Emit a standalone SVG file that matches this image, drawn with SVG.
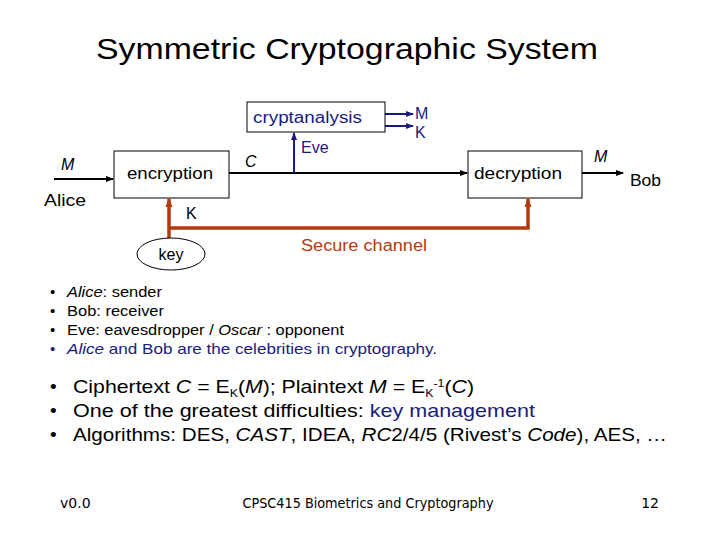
<svg xmlns="http://www.w3.org/2000/svg" width="720" height="540" viewBox="0 0 720 540">
<style>
text{font-family:"Liberation Sans","DejaVu Sans",sans-serif;fill:#000}
.lbl{font-size:16px}
.blue{fill:#1a1a80}
.red{fill:#b33a10}
.box{fill:#fff;stroke:#000;stroke-width:1}
.blk{stroke:#000;stroke-width:2;fill:none}
.bl{stroke:#1a1a80;stroke-width:2;fill:none}
.rd{stroke:#b33a10;stroke-width:3.5;fill:none}
.b1{font-size:15px}
.b2{font-size:19px}
.ft{font-size:14px;font-family:"DejaVu Sans","Liberation Sans",sans-serif}
</style>
<defs>
<marker id="ak" markerWidth="8" markerHeight="8" refX="7" refY="4" orient="auto" markerUnits="userSpaceOnUse"><path d="M0,1 L8,4 L0,7 Z" fill="#000"/></marker>
<marker id="ab" markerWidth="8" markerHeight="8" refX="7" refY="4" orient="auto" markerUnits="userSpaceOnUse"><path d="M0,1 L8,4 L0,7 Z" fill="#1a1a80"/></marker>
<marker id="ar" markerWidth="10" markerHeight="10" refX="8" refY="5" orient="auto" markerUnits="userSpaceOnUse"><path d="M0,1.5 L9,5 L0,8.5 Z" fill="#b33a10"/></marker>
</defs>
<rect width="720" height="540" fill="#fff"/>
<text x="347" y="59" font-size="30" text-anchor="middle" textLength="502" lengthAdjust="spacingAndGlyphs">Symmetric Cryptographic System</text>

<g id="connectors">
<line class="blk" x1="54" y1="179" x2="113" y2="179" marker-end="url(#ak)"/>
<line class="blk" x1="229" y1="173" x2="467" y2="173" marker-end="url(#ak)"/>
<line class="blk" x1="582" y1="173" x2="623" y2="173" marker-end="url(#ak)"/>
<line class="bl" x1="294" y1="173" x2="294" y2="133" marker-end="url(#ab)"/>
<line class="bl" x1="385" y1="114" x2="413" y2="114" marker-end="url(#ab)"/>
<line class="bl" x1="385" y1="126" x2="413" y2="126" marker-end="url(#ab)"/>
<line class="rd" x1="169" y1="238" x2="169" y2="199" marker-end="url(#ar)"/>
<polyline class="rd" points="169,228 528,228 528,199" marker-end="url(#ar)"/>
</g>

<g id="cryptanalysis">
<rect class="box" x="247" y="102" width="138" height="30"/>
<text class="lbl blue" x="253" y="123" textLength="109" lengthAdjust="spacingAndGlyphs">cryptanalysis</text>
</g>
<g id="encryption">
<rect class="box" x="114" y="151" width="115" height="47"/>
<text class="lbl" x="127" y="179" textLength="86" lengthAdjust="spacingAndGlyphs">encryption</text>
</g>
<g id="decryption">
<rect class="box" x="468" y="151" width="114" height="47"/>
<text class="lbl" x="474" y="179" textLength="88" lengthAdjust="spacingAndGlyphs">decryption</text>
</g>
<g id="key">
<ellipse cx="171" cy="254" rx="34" ry="16" fill="#fff" stroke="#000" stroke-width="1"/>
<text class="lbl" x="171" y="260" text-anchor="middle">key</text>
</g>

<g id="labels">
<text class="lbl" x="61" y="170" font-style="italic">M</text>
<text class="lbl" x="44" y="206" textLength="42" lengthAdjust="spacingAndGlyphs">Alice</text>
<text class="lbl" x="245" y="167" font-style="italic">C</text>
<text class="lbl blue" x="301" y="153">Eve</text>
<text class="lbl blue" x="415" y="119">M</text>
<text class="lbl blue" x="415" y="138">K</text>
<text class="lbl" x="594" y="162" font-style="italic">M</text>
<text class="lbl" x="630" y="186" textLength="31" lengthAdjust="spacingAndGlyphs">Bob</text>
<text class="lbl" x="186" y="219">K</text>
<text class="lbl red" x="301" y="251" textLength="126" lengthAdjust="spacingAndGlyphs">Secure channel</text>
</g>

<g id="bullets1">
<text class="b1" x="50" y="297">•</text>
<text class="b1" x="50" y="316">•</text>
<text class="b1" x="50" y="335">•</text>
<text class="b1 blue" x="50" y="354">•</text>
<text class="b1" x="67" y="297" textLength="95" lengthAdjust="spacingAndGlyphs"><tspan font-style="italic">Alice</tspan>: sender</text>
<text class="b1" x="67" y="316" textLength="97" lengthAdjust="spacingAndGlyphs">Bob: receiver</text>
<text class="b1" x="67" y="335" textLength="277" lengthAdjust="spacingAndGlyphs">Eve: eavesdropper / <tspan font-style="italic">Oscar</tspan> : opponent</text>
<text class="b1 blue" x="67" y="354" textLength="370" lengthAdjust="spacingAndGlyphs"><tspan font-style="italic">Alice</tspan> and Bob are the celebrities in cryptography.</text>
</g>

<g id="bullets2">
<text class="b2" x="50" y="393">•</text>
<text class="b2" x="50" y="417">•</text>
<text class="b2" x="50" y="441">•</text>
<text class="b2" x="73" y="393" textLength="401" lengthAdjust="spacingAndGlyphs">Ciphertext  <tspan font-style="italic">C</tspan> = E<tspan font-size="11" dy="4">K</tspan><tspan dy="-4">(</tspan><tspan font-style="italic">M</tspan>); Plaintext <tspan font-style="italic">M</tspan> = E<tspan font-size="11" dy="4">K</tspan><tspan font-size="11" dy="-10">-1</tspan><tspan dy="6">(</tspan><tspan font-style="italic">C</tspan>)</text>
<text class="b2" x="73" y="417" textLength="462" lengthAdjust="spacingAndGlyphs">One of the greatest difficulties: <tspan class="blue">key management</tspan></text>
<text class="b2" x="73" y="441" textLength="594" lengthAdjust="spacingAndGlyphs">Algorithms: DES, <tspan font-style="italic">CAST</tspan>, IDEA, <tspan font-style="italic">RC</tspan>2/4/5 (Rivest’s <tspan font-style="italic">Code</tspan>), AES, …</text>
</g>

<g id="footer">
<text class="ft" x="60" y="508">v0.0</text>
<text class="ft" x="368" y="508" text-anchor="middle" textLength="251" lengthAdjust="spacingAndGlyphs">CPSC415 Biometrics and Cryptography</text>
<text class="ft" x="659" y="508" text-anchor="end">12</text>
</g>
</svg>
